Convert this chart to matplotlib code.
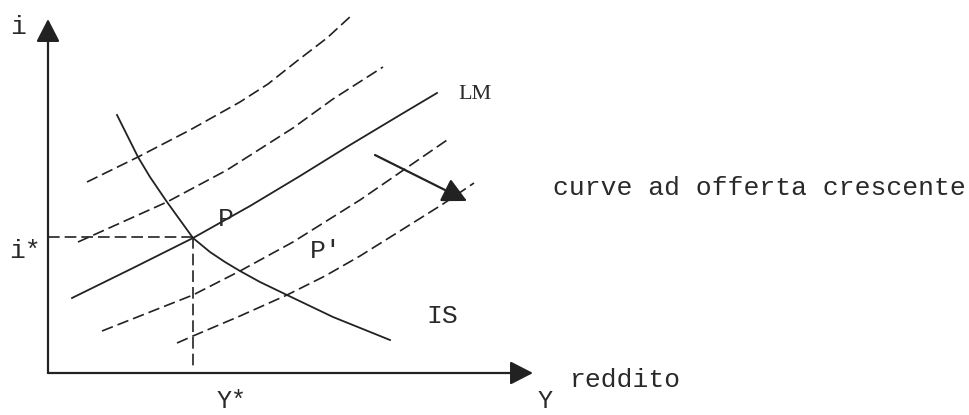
import numpy as np
import matplotlib.pyplot as plt

# curve points (pixel coords, y down)
is_x = [117, 138, 150, 167, 180, 193, 210, 225, 240, 260, 287, 333, 390]
is_y = [115, 157, 177, 202, 220, 238, 252, 262, 271, 282, 295, 317, 340]

lm_x = [72, 133, 193, 250, 300, 350, 400, 437]
lm_y = [298, 268, 238, 206, 176, 145, 115, 93]

d1_x = [87, 138, 190, 240, 268, 297, 327, 352]
d1_y = [182, 157, 130, 102, 84, 61, 38, 15]
d2_x = [78, 167, 227, 293, 333, 383]
d2_y = [242, 202, 170, 128, 99, 67]
d3_x = [102, 193, 240, 293, 360, 450]
d3_y = [331, 295, 271, 242, 200, 138]
d4_x = [177, 193, 240, 287, 325, 360, 400, 443, 474]
d4_y = [343, 336, 316, 295, 276, 256, 231, 204, 183]

origin = (48, 373)
y_tip = (48, 19)
x_tip = (533, 373)
eq = (193, 237)
shift_from = (375, 155)
shift_to = (467, 201)

col = '#222222'
mono = 'Liberation Mono'
dash = (0, (7, 3))

fig = plt.figure(figsize=(9.7, 4.15), dpi=100)
ax = fig.add_axes([0, 0, 1, 1])
ax.set_xlim(0, 970)
ax.set_ylim(415, 0)
ax.axis('off')

def arrow(a, b, hl=0.7, hw=0.36):
    ax.annotate('', xy=b, xytext=a,
                arrowprops=dict(arrowstyle=f'-|>,head_length={hl},head_width={hw}',
                                color=col, lw=1.6, shrinkA=0, shrinkB=0,
                                mutation_scale=20))

arrow(origin, y_tip)
arrow(origin, x_tip)
arrow(shift_from, shift_to, hl=0.75, hw=0.38)

ax.plot(is_x, is_y, color=col, lw=1.3)
ax.plot(lm_x, lm_y, color=col, lw=1.3)
for xs, ys in [(d1_x, d1_y), (d2_x, d2_y), (d3_x, d3_y), (d4_x, d4_y)]:
    ax.plot(xs, ys, color=col, lw=1.2, linestyle=dash)

# guide lines to the axes
ax.plot([origin[0], eq[0]], [eq[1], eq[1]], color=col, lw=1.2, linestyle=dash)
ax.plot([eq[0], eq[0]], [eq[1], 368], color=col, lw=1.2, linestyle=dash)

fs = 19
tc = '#2a2a2a'
ax.text(18, 34, 'i', family=mono, fontsize=fs, color=tc, ha='center', va='baseline')
ax.text(25, 258, 'i*', family=mono, fontsize=fs, color=tc, ha='center', va='baseline')
# the reference cuts these two at the bottom edge; keep them just inside
ax.text(232, 408, 'Y*', family=mono, fontsize=18, color=tc, ha='center', va='baseline')
ax.text(545, 408, 'Y', family=mono, fontsize=18, color=tc, ha='center', va='baseline')
ax.text(570, 387, 'reddito', family=mono, fontsize=fs, color=tc, ha='left', va='baseline')
ax.text(226, 226, 'P', family=mono, fontsize=fs, color=tc, ha='center', va='baseline')
ax.text(326, 258, "P'", family=mono, fontsize=fs, color=tc, ha='center', va='baseline')
ax.text(442, 323, 'IS', family=mono, fontsize=fs, color=tc, ha='center', va='baseline')
ax.text(458, 99, 'LM', family='Liberation Serif', fontsize=16, color=tc, ha='left', va='baseline')
ax.text(553, 195, 'curve ad offerta crescente', family=mono, fontsize=fs, color=tc,
        ha='left', va='baseline')

fig.savefig('out.png', dpi=100)
